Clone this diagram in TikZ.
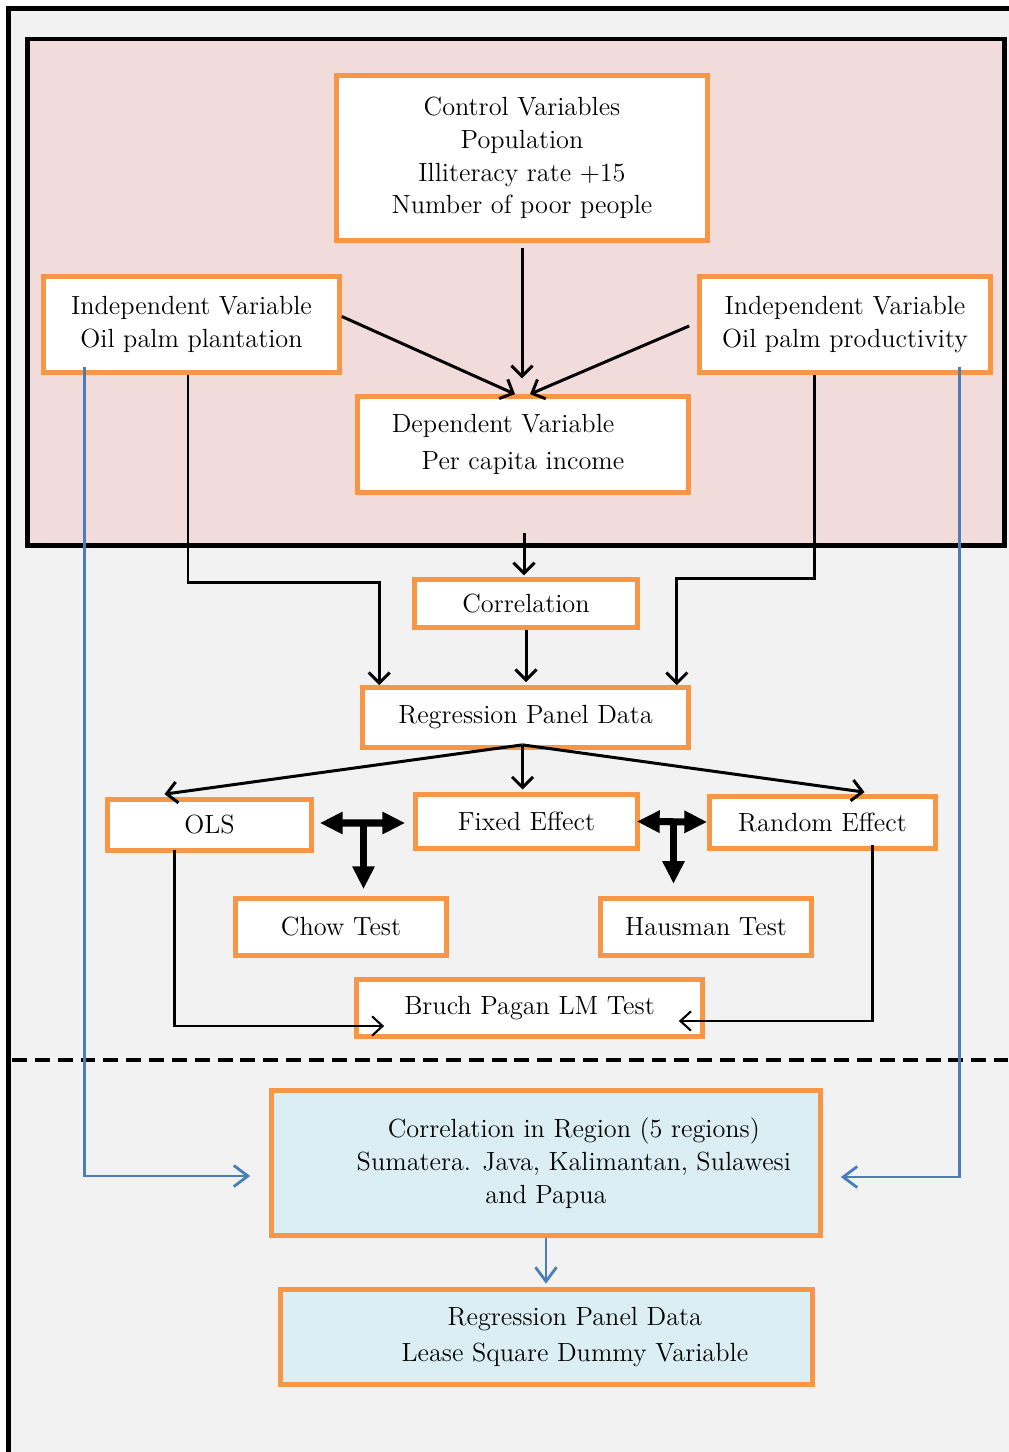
\documentclass[tikz,border=0pt]{standalone}
\usepackage{fontspec}
\usepackage{tikz}
\usetikzlibrary{arrows.meta,calc}
\definecolor{frameorange}{RGB}{247,150,70}
\definecolor{modelpink}{RGB}{242,220,219}
\definecolor{regionblue}{RGB}{218,238,243}
\definecolor{linkblue}{RGB}{74,126,187}
\definecolor{pagegray}{RGB}{242,242,242}

\begin{document}
\begin{tikzpicture}[x=0.02cm,y=-0.02cm,
  box/.style={draw=frameorange,line width=2.7pt,fill=white,inner sep=0pt,align=center,font=\fontsize{14.95}{18.7}\selectfont},
  link/.style={line width=1.7pt,-{Straight Barb[length=6pt,width=12pt]}},
  thinlink/.style={line width=1.2pt,-{Straight Barb[length=6pt,width=11pt]}},
  bluelink/.style={draw=linkblue,line width=1.6pt,-{Straight Barb[length=8pt,width=12pt]}},
  tee/.style={line width=4pt,{Triangle[length=13pt,width=12pt]}-{Triangle[length=13pt,width=12pt]}},
  teestem/.style={line width=4pt,-{Triangle[length=13pt,width=12pt]}}]
  \useasboundingbox (0,0) rectangle (1008,1452);
  \fill[white] (0,0) rectangle (1008,1452);
  \draw[fill=pagegray,line width=2.8pt] (8.5,8.5) rectangle (1030,1480);
  \draw[fill=modelpink,line width=2.8pt] (27.5,39) rectangle (1004.5,545.5);
  \coordinate (modelout) at (524,533);

  \node[box,minimum width=7.42cm,minimum height=3.30cm] (ctrl) at (522,158) {Control Variables\\Population\\Illiteracy rate +15\\Number of poor people};
  \node[box,minimum width=5.92cm,minimum height=1.92cm] (indL) at (191.5,324.5) {Independent Variable\\Oil palm plantation};
  \node[box,minimum width=5.82cm,minimum height=1.92cm] (indR) at (845,324.5) {Independent Variable\\Oil palm productivity};
  \node[box,minimum width=6.62cm,minimum height=1.92cm] (dep) at (523,444.5) {Dependent Variable\hspace*{22.7pt}\\[2pt]Per capita income};
  \node[box,minimum width=4.46cm,minimum height=0.96cm] (corr) at (526,603.5) {Correlation};
  \node[box,minimum width=6.52cm,minimum height=1.20cm] (reg) at (525.5,717.5) {Regression Panel Data};
  \node[box,minimum width=4.08cm,minimum height=1.02cm] (ols) at (209.5,825) {OLS};
  \node[box,minimum width=4.44cm,minimum height=1.08cm] (fixed) at (526.5,821.5) {Fixed Effect};
  \node[box,minimum width=4.52cm,minimum height=1.04cm] (random) at (822.5,822.5) {Random Effect};
  \node[box,minimum width=4.22cm,minimum height=1.14cm] (chow) at (341,927) {Chow Test};
  \node[box,minimum width=4.22cm,minimum height=1.14cm] (hausman) at (706,927) {Hausman Test};
  \node[box,minimum width=6.92cm,minimum height=1.14cm] (bp) at (529.5,1008) {Bruch Pagan LM Test};
  \node[box,fill=regionblue,minimum width=10.98cm,minimum height=2.90cm] (region) at (546,1163) {\hspace*{31.7pt}Correlation in Region (5 regions)\\\hspace*{31.7pt}Sumatera. Java, Kalimantan, Sulawesi\\and Papua};
  \node[box,fill=regionblue,minimum width=10.64cm,minimum height=1.90cm] (lsdv) at (546.5,1337) {\hspace*{32.3pt}Regression Panel Data\\[2pt]\hspace*{32.3pt}Lease Square Dummy Variable};

  \coordinate (split) at ($(reg.south)+(-3,-5)$);
  \coordinate (teeL) at ($(ols.east)!0.5!(fixed.west)$);
  \coordinate (teeR) at ($(fixed.east)!0.5!(random.west)$);

  \draw[link,shorten <=2.8pt,shorten >=9pt] (ctrl.south) -- (ctrl.south |- dep.north);
  \draw[link] ($(indL.east)+(0,-8)$) -- ($(dep.north)+(-8,0)$);
  \draw[link] ($(indR.west)+(-8,1.5)$) -- ($(dep.north)+(7,0)$);
  \draw[link] ($(indL.south)+(-3.5,0)$) -- ++(0,208) -| ($(reg.north west)+(19,0)$);
  \draw[link] ($(indR.south)+(-31,0)$) -- ++(0,204) -| ($(reg.north east)+(-14,0)$);
  \draw[link,shorten >=1pt] (modelout) -- (modelout |- corr.north);
  \draw[link,shorten >=1.7pt] (corr.south) -- (corr.south |- reg.north);
  \draw[link] (split) -- ($(ols.north)+(-45,-3)$);
  \draw[link,shorten >=1.5pt] (split) -- (split |- fixed.north);
  \draw[link] (split) -- ($(random.north)+(42,-2)$);
  \draw[tee] ($(ols.east)+(6,-2)$) -- ($(fixed.west)+(-8,1.5)$);
  \draw[teestem,shorten >=4pt] (teeL) -- (teeL |- chow.north);
  \draw[tee] ($(fixed.east)+(-3,0)$) -- ($(random.west)+(0,-0.5)$);
  \draw[teestem,shorten >=7pt] (teeR) -- (teeR |- hausman.north);
  \draw[thinlink] ($(ols.south)+(-35,-3)$) |- ($(bp.west)+(30,18)$);
  \draw[thinlink] ($(random.south)+(50,-6)$) |- ($(bp.east)+(-26,13)$);

  \draw[line width=2.3pt,dash pattern=on 8.5pt off 4.5pt] (12,1060) -- (1008,1060);

  \draw[bluelink] ($(indL.south west)+(43,-8)$) |- ($(region.west)+(-19,13)$);
  \draw[bluelink] ($(indR.south east)+(-33,-8)$) |- ($(region.east)+(18,14)$);
  \draw[bluelink,shorten >=2pt] (region.south) -- (region.south |- lsdv.north);
\end{tikzpicture}
\end{document}
